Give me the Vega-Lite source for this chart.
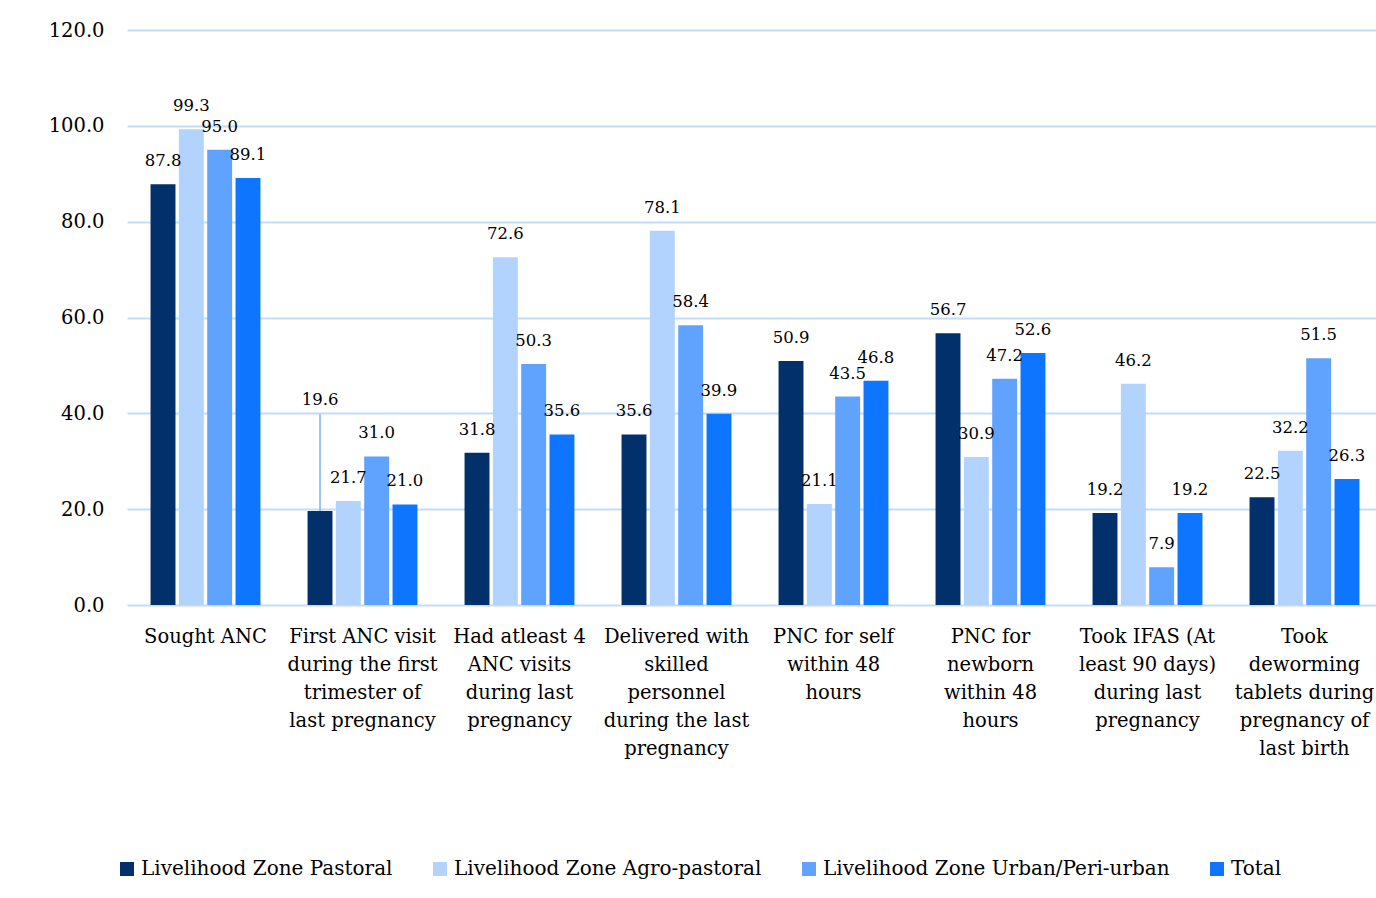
{
  "$schema": "https://vega.github.io/schema/vega-lite/v6.json",
  "autosize": "none",
  "width": 1249,
  "height": 575,
  "padding": {"left": 127, "top": 30, "right": 0, "bottom": 293},
  "background": "white",
  "config": {
    "view": {"stroke": null},
    "font": "DejaVu Serif",
    "axis": {"labelFont": "DejaVu Serif", "labelColor": "#000000"},
    "legend": {"labelFont": "DejaVu Serif", "labelColor": "#000000"}
  },
  "data": {
    "values": [
      {"indicator": "Sought ANC", "zone": "Livelihood Zone Pastoral", "value": 87.8},
      {"indicator": "Sought ANC", "zone": "Livelihood Zone Agro-pastoral", "value": 99.3},
      {"indicator": "Sought ANC", "zone": "Livelihood Zone Urban/Peri-urban", "value": 95.0},
      {"indicator": "Sought ANC", "zone": "Total", "value": 89.1},
      {"indicator": "First ANC visit\nduring the first\ntrimester of\nlast pregnancy", "zone": "Livelihood Zone Pastoral", "value": 19.6},
      {"indicator": "First ANC visit\nduring the first\ntrimester of\nlast pregnancy", "zone": "Livelihood Zone Agro-pastoral", "value": 21.7},
      {"indicator": "First ANC visit\nduring the first\ntrimester of\nlast pregnancy", "zone": "Livelihood Zone Urban/Peri-urban", "value": 31.0},
      {"indicator": "First ANC visit\nduring the first\ntrimester of\nlast pregnancy", "zone": "Total", "value": 21.0},
      {"indicator": "Had atleast 4\nANC visits\nduring last\npregnancy", "zone": "Livelihood Zone Pastoral", "value": 31.8},
      {"indicator": "Had atleast 4\nANC visits\nduring last\npregnancy", "zone": "Livelihood Zone Agro-pastoral", "value": 72.6},
      {"indicator": "Had atleast 4\nANC visits\nduring last\npregnancy", "zone": "Livelihood Zone Urban/Peri-urban", "value": 50.3},
      {"indicator": "Had atleast 4\nANC visits\nduring last\npregnancy", "zone": "Total", "value": 35.6},
      {"indicator": "Delivered with\nskilled\npersonnel\nduring the last\npregnancy", "zone": "Livelihood Zone Pastoral", "value": 35.6},
      {"indicator": "Delivered with\nskilled\npersonnel\nduring the last\npregnancy", "zone": "Livelihood Zone Agro-pastoral", "value": 78.1},
      {"indicator": "Delivered with\nskilled\npersonnel\nduring the last\npregnancy", "zone": "Livelihood Zone Urban/Peri-urban", "value": 58.4},
      {"indicator": "Delivered with\nskilled\npersonnel\nduring the last\npregnancy", "zone": "Total", "value": 39.9},
      {"indicator": "PNC for self\nwithin 48\nhours", "zone": "Livelihood Zone Pastoral", "value": 50.9},
      {"indicator": "PNC for self\nwithin 48\nhours", "zone": "Livelihood Zone Agro-pastoral", "value": 21.1},
      {"indicator": "PNC for self\nwithin 48\nhours", "zone": "Livelihood Zone Urban/Peri-urban", "value": 43.5},
      {"indicator": "PNC for self\nwithin 48\nhours", "zone": "Total", "value": 46.8},
      {"indicator": "PNC for\nnewborn\nwithin 48\nhours", "zone": "Livelihood Zone Pastoral", "value": 56.7},
      {"indicator": "PNC for\nnewborn\nwithin 48\nhours", "zone": "Livelihood Zone Agro-pastoral", "value": 30.9},
      {"indicator": "PNC for\nnewborn\nwithin 48\nhours", "zone": "Livelihood Zone Urban/Peri-urban", "value": 47.2},
      {"indicator": "PNC for\nnewborn\nwithin 48\nhours", "zone": "Total", "value": 52.6},
      {"indicator": "Took IFAS (At\nleast 90 days)\nduring last\npregnancy", "zone": "Livelihood Zone Pastoral", "value": 19.2},
      {"indicator": "Took IFAS (At\nleast 90 days)\nduring last\npregnancy", "zone": "Livelihood Zone Agro-pastoral", "value": 46.2},
      {"indicator": "Took IFAS (At\nleast 90 days)\nduring last\npregnancy", "zone": "Livelihood Zone Urban/Peri-urban", "value": 7.9},
      {"indicator": "Took IFAS (At\nleast 90 days)\nduring last\npregnancy", "zone": "Total", "value": 19.2},
      {"indicator": "Took\ndeworming\ntablets during\npregnancy of\nlast birth", "zone": "Livelihood Zone Pastoral", "value": 22.5},
      {"indicator": "Took\ndeworming\ntablets during\npregnancy of\nlast birth", "zone": "Livelihood Zone Agro-pastoral", "value": 32.2},
      {"indicator": "Took\ndeworming\ntablets during\npregnancy of\nlast birth", "zone": "Livelihood Zone Urban/Peri-urban", "value": 51.5},
      {"indicator": "Took\ndeworming\ntablets during\npregnancy of\nlast birth", "zone": "Total", "value": 26.3}
    ]
  },
  "encoding": {
    "x": {
      "field": "indicator",
      "type": "nominal",
      "sort": null,
      "scale": {"range": [0, 1256], "paddingInner": 0.3, "paddingOuter": 0.15},
      "axis": {
        "title": null,
        "labelAngle": 0,
        "labelExpr": "split(datum.label, '\\n')",
        "labelFontSize": 19.5,
        "labelLineHeight": 28,
        "labelBaseline": "top",
        "labelPadding": 22,
        "labelLimit": 400,
        "ticks": false,
        "domain": false,
        "grid": false
      }
    },
    "xOffset": {
      "field": "zone",
      "type": "nominal",
      "sort": null,
      "scale": {"paddingInner": 0.12, "paddingOuter": 0}
    },
    "y": {
      "field": "value",
      "type": "quantitative",
      "scale": {"domain": [0, 120], "nice": false},
      "axis": {
        "title": null,
        "values": [0, 20, 40, 60, 80, 100, 120],
        "format": ".1f",
        "labelFontSize": 19.5,
        "labelPadding": 23,
        "ticks": false,
        "domain": false,
        "grid": true,
        "gridColor": "#C6DCF6",
        "gridWidth": 2
      }
    }
  },
  "layer": [
    {
      "mark": {"type": "bar"},
      "encoding": {
        "color": {
          "field": "zone",
          "type": "nominal",
          "sort": null,
          "scale": {
            "domain": ["Livelihood Zone Pastoral", "Livelihood Zone Agro-pastoral", "Livelihood Zone Urban/Peri-urban", "Total"],
            "range": ["#02306A", "#B3D3FF", "#5FA3FF", "#0D75FF"]
          },
          "legend": {
            "title": null,
            "orient": "none",
            "legendX": -10,
            "legendY": 829,
            "direction": "horizontal",
            "columns": 4,
            "columnPadding": 37,
            "symbolType": "square",
            "symbolSize": 196,
            "symbolStrokeWidth": 0,
            "labelFontSize": 20,
            "labelOffset": 4,
            "labelLimit": 500
          }
        }
      }
    },
    {
      "transform": [{"filter": "!(datum.zone == 'Livelihood Zone Pastoral' && indexof(datum.indicator, 'First ANC') == 0)"}],
      "mark": {"type": "text", "baseline": "middle", "dy": -23, "fontSize": 16.5, "color": "#000000", "font": "DejaVu Serif"},
      "encoding": {
        "text": {"field": "value", "type": "quantitative", "format": ".1f"}
      }
    },
    {
      "transform": [{"filter": "datum.zone == 'Livelihood Zone Pastoral' && indexof(datum.indicator, 'First ANC') == 0"}],
      "mark": {"type": "rule", "color": "#7DB0F2", "strokeWidth": 1.5},
      "encoding": {
        "y2": {"datum": 39.8}
      }
    },
    {
      "transform": [{"filter": "datum.zone == 'Livelihood Zone Pastoral' && indexof(datum.indicator, 'First ANC') == 0"}],
      "mark": {"type": "text", "baseline": "middle", "fontSize": 16.5, "color": "#000000", "font": "DejaVu Serif"},
      "encoding": {
        "y": {"datum": 42.8},
        "text": {"field": "value", "type": "quantitative", "format": ".1f"}
      }
    }
  ]
}
